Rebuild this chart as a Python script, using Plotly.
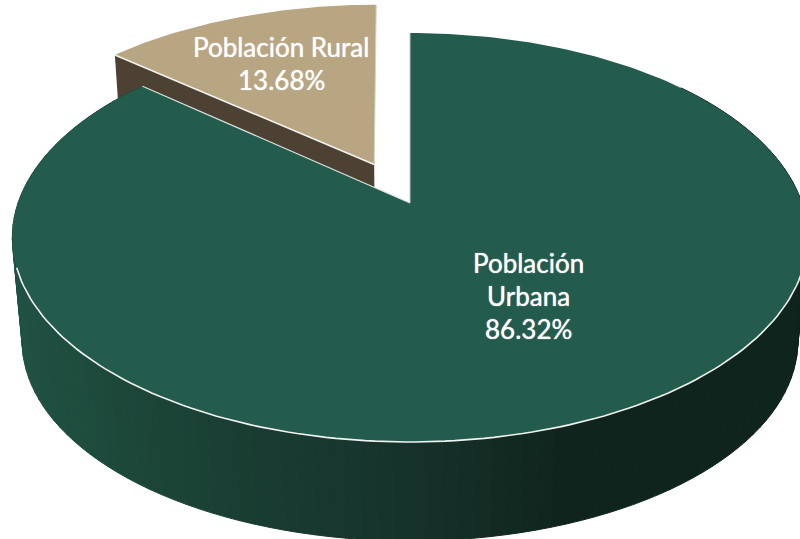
import numpy as np
import plotly.graph_objects as go

# ---------------------------------------
# Data
# ---------------------------------------
categories = ["Población Urbana", "Población Rural"]
shares = [86.32, 13.68]
urban_lines = ["Población", "Urbana", "86.32%"]
rural_lines = ["Población Rural", "13.68%"]

# ---------------------------------------
# Look of the tilted disk (pixels of the 800x539 page)
# ---------------------------------------
COLOR_URBAN = "#235c4d"
COLOR_RURAL = "#b8a582"
COLOR_RURAL_SIDE = "#4c4133"

CX, CY = 410, 203      # where the centre of the disk lands
RX = 392
TILT_A, TILT_C = -164.4, 0.1687   # perspective of the disk
BASE_SCALE, BASE_DROP = 0.975, 110
RURAL_EXPLODE = 0.22
RURAL_NUDGE = -0.012
RURAL_APEX_NUDGE = 3.5

SIDE_X = [12, 30, 130, 230, 410, 540, 560, 800]
SIDE_R = [0x20, 0x1f, 0x1c, 0x1a, 0x16, 0x11, 0x10, 0x10]
SIDE_G = [0x52, 0x50, 0x47, 0x3e, 0x32, 0x27, 0x24, 0x24]
SIDE_B = [0x43, 0x41, 0x39, 0x33, 0x2b, 0x1f, 0x1e, 0x1e]


def project(theta, radius=1.0, shift_u=0.0, shift_v=0.0):
    # theta runs clockwise from the top of the disk, in degrees
    u = radius * np.sin(np.radians(theta)) + shift_u
    v = radius * np.cos(np.radians(theta)) + shift_v
    w = 1 + TILT_C * v
    return CX + RX * u / w, (TILT_A * v + CY) / w


def lower(x, y):
    return CX + BASE_SCALE * (x - CX), BASE_SCALE * y + BASE_DROP


def arc(start, end, n, **kw):
    return project(np.linspace(start, end, n), **kw)


def polygon(x, y, color, line_color=None):
    return go.Scatter(
        x=list(x),
        y=list(y),
        mode="lines",
        fill="toself",
        fillcolor=color,
        line={"color": line_color or color, "width": 1 if line_color else 0},
        hoverinfo="skip",
        showlegend=False
    )


def edge(x, y, width=1.6, color="#f2f2ee"):
    return go.Scatter(
        x=list(x),
        y=list(y),
        mode="lines",
        line={"color": color, "width": width},
        hoverinfo="skip",
        showlegend=False
    )


urban_sweep = shares[0] / sum(shares) * 360
rural_sweep = shares[1] / sum(shares) * 360
rural_mid = urban_sweep + rural_sweep / 2
shift_u = RURAL_EXPLODE * np.sin(np.radians(rural_mid)) + RURAL_NUDGE
shift_v = RURAL_EXPLODE * np.cos(np.radians(rural_mid))

fig = go.Figure()

# ---------------------------------------
# Rural slice: side wall, then top
# ---------------------------------------
rural_x, rural_y = arc(urban_sweep, 360, 60, shift_u=shift_u, shift_v=shift_v)
apex_x, apex_y = project(0.0, radius=0.0, shift_u=shift_u, shift_v=shift_v)
apex_x = apex_x + RURAL_APEX_NUDGE

corner_x, corner_y = rural_x[0], rural_y[0]
low_corner = lower(corner_x, corner_y)
low_apex = lower(apex_x, apex_y)
fig.add_trace(polygon(
    [corner_x, apex_x, low_apex[0], low_corner[0], corner_x],
    [corner_y, apex_y, low_apex[1], low_corner[1], corner_y],
    COLOR_RURAL_SIDE
))
fig.add_trace(polygon(
    [apex_x, *rural_x, apex_x],
    [apex_y, *rural_y, apex_y],
    COLOR_RURAL
))
fig.add_trace(edge([corner_x, apex_x], [corner_y, apex_y]))
fig.add_trace(edge([apex_x, rural_x[-1]], [apex_y, rural_y[-1]], width=1, color="#d9d0bd"))

# ---------------------------------------
# Urban slice: wall strips with a left to right shade, then top
# ---------------------------------------
wall = np.linspace(50, 310, 131)
for a, b in zip(wall[:-1], wall[1:]):
    x0, y0 = project(a)
    x1, y1 = project(b)
    lx0, ly0 = lower(x0, y0)
    lx1, ly1 = lower(x1, y1)
    mid = (x0 + x1) / 2
    color = "rgb({:.0f},{:.0f},{:.0f})".format(
        np.interp(mid, SIDE_X, SIDE_R),
        np.interp(mid, SIDE_X, SIDE_G),
        np.interp(mid, SIDE_X, SIDE_B)
    )
    fig.add_trace(polygon([x0, x1, lx1, lx0, x0], [y0, y1, ly1, ly0, y0], color, color))

urban_x, urban_y = arc(0, urban_sweep, 240)
fig.add_trace(polygon(
    [CX, *urban_x, CX],
    [CY, *urban_y, CY],
    COLOR_URBAN
))

# white rim along the front of the disk and the cut
rim_x, rim_y = arc(108, 252, 120)
fig.add_trace(edge(rim_x, rim_y))
fig.add_trace(edge([urban_x[-1], CX], [urban_y[-1], CY], width=1.2, color="#d8e0dc"))
fig.add_trace(edge([CX, urban_x[0]], [CY, urban_y[0]], width=1, color="#b9cac4"))

# ---------------------------------------
# Labels
# ---------------------------------------
label_font = {"family": "Lato", "size": 26, "color": "white", "shadow": "0 0 1px white"}
for text, y in zip(urban_lines, [263, 296, 329]):
    fig.add_annotation(x=528, y=y, text=text, showarrow=False, font=label_font)
for text, y in zip(rural_lines, [47, 80]):
    fig.add_annotation(x=281, y=y, text=text, showarrow=False, font=label_font)

fig.update_layout(
    width=800,
    height=539,
    margin={"l": 0, "r": 0, "t": 0, "b": 0},
    paper_bgcolor="white",
    plot_bgcolor="white",
    showlegend=False,
    xaxis={"range": [0, 800], "visible": False, "fixedrange": True},
    yaxis={"range": [539, 0], "visible": False, "fixedrange": True}
)

# the page's default body margin would push the picture 8px in
fig.write_html(
    "out.html",
    config={"displayModeBar": False},
    post_script="document.body.style.margin='0';document.body.style.overflow='hidden';"
)
